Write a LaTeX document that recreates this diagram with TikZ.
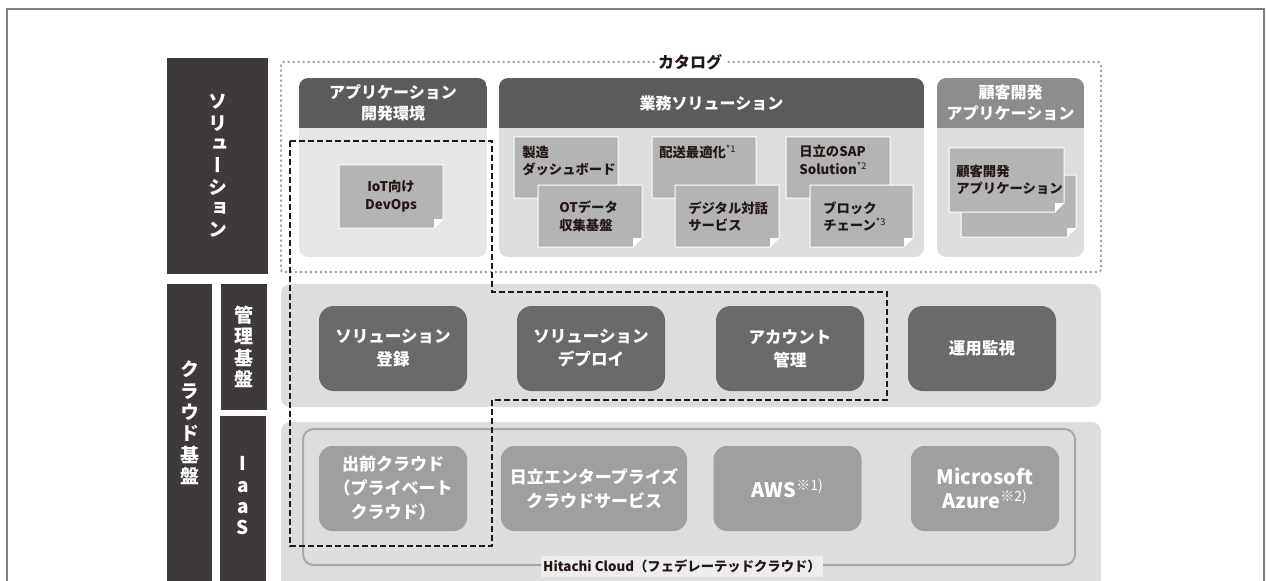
\documentclass[tikz,border=0pt]{standalone}
\usepackage{fontspec}
\setmainfont{Noto Sans CJK JP}
\newfontfamily\vertfont{Noto Sans CJK JP}[RawFeature=+vert]

\definecolor{barDark}{HTML}{3E3A39}
\definecolor{headDark}{HTML}{5B5B5B}
\definecolor{headLight}{HTML}{8D8D8D}
\definecolor{panelLight}{HTML}{E6E6E6}
\definecolor{panelGray}{HTML}{DCDDDD}
\definecolor{sheetGray}{HTML}{B4B4B4}
\definecolor{mgmtGray}{HTML}{6A6A6A}
\definecolor{iaasGray}{HTML}{9F9FA0}
\definecolor{cloudLine}{HTML}{A8A8A8}
\definecolor{dotGray}{HTML}{A0A0A0}
\definecolor{inkBlack}{HTML}{231815}
\definecolor{frameGray}{HTML}{7F7F7F}
\definecolor{tagGray}{HTML}{EDEDED}

\begin{document}
\begin{tikzpicture}[x=0.75pt,y=0.75pt,yscale=-1,xscale=1,
  vlabel/.style={text=white, align=center, inner sep=0pt, font=\vertfont\bfseries\fontsize{14.25}{16}\selectfont},
  headtext/.style={text=white, align=center, inner sep=0pt, font=\bfseries\fontsize{12}{15.75}\selectfont},
  doctext/.style={text=inkBlack, align=left, inner sep=0pt, font=\bfseries\fontsize{10}{13.25}\selectfont},
  docsheet/.style={fill=sheetGray, draw=white, line width=0.75pt},
  mgmtbox/.style={fill=mgmtGray, rounded corners=11pt, minimum width=111pt, minimum height=63.75pt, text=white, align=center, font=\bfseries\fontsize{12.4}{17.25}\selectfont},
  iaasbox/.style={fill=iaasGray, rounded corners=10pt, minimum width=111pt, minimum height=63.75pt, text=white, align=center, font=\bfseries\fontsize{12.75}{18}\selectfont},
  catalog/.style={draw=dotGray, line width=1.5pt, dash pattern=on 1.5pt off 2.25pt, rounded corners=2pt},
  route/.style={draw=inkBlack, line width=1.1pt, dash pattern=on 4.5pt off 2.25pt}]
\useasboundingbox (0,0) rectangle (1266,581);
\clip (0,0) rectangle (1266,581);

%Shape: Rectangle [outer frame]
\draw [frameGray, line width=1.1pt] (7,9) rectangle (1264,620);

%Shape: Rectangle [side bars]
\fill [barDark] (167,58) rectangle (268,274);
\fill [barDark] (167,284) rectangle (212,620);
\fill [barDark] (221,284) rectangle (267,410);
\fill [barDark] (220,416) rectangle (266,620);

% Text Node
\node [vlabel] (solLabel) at (217.5,166) {ソ\\リ\\ュ\\ー\\シ\\ョ\\ン};
% Text Node
\node [vlabel] (cloudLabel) at (189.5,423) {ク\\ラ\\ウ\\ド\\基\\盤};
% Text Node
\node [vlabel] (mgmtLabel) at (244,347) {管\\理\\基\\盤};
% Text Node
\node [vlabel] (iaasLabel) at (243,496) {I\\a\\a\\S};

%Shape: Rectangle [catalog]
\draw [catalog] (281,62) rectangle (1101,272);
% Text Node
\node [fill=white, inner xsep=2pt, inner ysep=1pt, text=inkBlack, font=\bfseries\fontsize{12}{14}\selectfont] (catTitle) at (690,62) {カタログ};

%Shape: Panels with header
\foreach \xa/\xb/\hc/\bc in {299/487/headDark/panelLight, 499/924/headDark/panelGray, 937/1084/headLight/panelGray}{
  \begin{scope}
    \clip [rounded corners=7pt] (\xa,78) rectangle (\xb,257);
    \fill [\bc] (\xa,78) rectangle (\xb,257);
    \fill [\hc] (\xa,78) rectangle (\xb,128);
  \end{scope}
}

% Text Node
\node [headtext] (appHead) at (393,103) {アプリケーション\\開発環境};
% Text Node
\node [headtext] (bizHead) at (711.5,103) {業務ソリューション};
% Text Node
\node [headtext] (custHead) at (1010.5,103) {顧客開発\\アプリケーション};

%Shape: Document sheets
\foreach \xa/\ya/\xb/\yb in {339/165/443/228, 514/137/618/198, 538/185/642/247, 652/137/756/198, 675/185/779/247, 786/137/890/198, 810/185/913/247, 961/175/1076/237, 949/148/1064/212}{
  \filldraw [docsheet] (\xa,\ya) -- (\xb,\ya) -- (\xb,\yb-9) -- (\xb-9,\yb) -- (\xa,\yb) -- cycle;
  \fill [white] (\xb,\yb-9) -- (\xb-9,\yb-9) -- (\xb-9,\yb) -- cycle;
}

% Text Node
\node [doctext, align=center] (iotDoc) at (391,196) {IoT向け\\DevOps};
% Text Node
\node [doctext, anchor=west] (mfgDoc) at (522,161) {製造\\ダッシュボード};
% Text Node
\node [doctext, anchor=west] (otDoc) at (559,216.5) {OTデータ\\収集基盤};
% Text Node
\node [doctext, anchor=west] (routeDoc) at (659,152) {配送最適化\textsuperscript{\mdseries *1}};
% Text Node
\node [doctext, anchor=west] (chatDoc) at (688,216.5) {デジタル対話\\サービス};
% Text Node
\node [doctext, anchor=west] (sapDoc) at (799,160) {日立のSAP\\Solution\textsuperscript{\mdseries *2}};
% Text Node
\node [doctext, anchor=west] (chainDoc) at (823,216.5) {ブロック\\チェーン\textsuperscript{\mdseries *3}};
% Text Node
\node [doctext, anchor=west] (custDoc) at (956,180) {顧客開発\\アプリケーション};

%Shape: Rectangle [management / IaaS panels]
\fill [panelGray, rounded corners=7pt] (281,284) rectangle (1101,407);
\fill [panelGray, rounded corners=7pt] (281,422) rectangle (1101,620);

% Text Node
\node [mgmtbox] (solReg) at (393,348.5) {ソリューション\\登録};
% Text Node
\node [mgmtbox] (solDeploy) at (591,348.5) {ソリューション\\デプロイ};
% Text Node
\node [mgmtbox] (account) at (790,348.5) {アカウント\\管理};
% Text Node
\node [mgmtbox] (monitor) at (982,348.5) {運用監視};

%Shape: Rounded Rect [Hitachi Cloud]
\draw [cloudLine, line width=1.5pt, rounded corners=8pt] (303,429) rectangle (1075,565);
% Text Node
\node [fill=tagGray, minimum width=211.5pt, minimum height=15.75pt, inner sep=0pt, text=inkBlack, font=\bfseries\fontsize{10}{12}\selectfont] (cloudTag) at (682,566.5) {Hitachi Cloud（フェデレーテッドクラウド）};

% Text Node
\node [iaasbox] (demae) at (393,488.5) {出前クラウド\\（プライベート\\クラウド）};
% Text Node
\node [iaasbox, minimum width=139.5pt] (hitachiEcs) at (594,488.5) {日立エンタープライズ\\クラウドサービス};
% Text Node
\node [iaasbox, font=\bfseries\fontsize{15}{18}\selectfont] (aws) at (787.5,488.5) {AWS\textsuperscript{\mdseries ※1)}};
% Text Node
\node [iaasbox, font=\bfseries\fontsize{15}{18}\selectfont] (azure) at (985,488.5) {Microsoft\\Azure\textsuperscript{\mdseries ※2)}};

%Straight Lines [dashed scope]
\draw [route] (290,141) -- (492,141) -- (492,292) -- (887,292) -- (887,400) -- (492,400) -- (492,546) -- (290,546) -- cycle;

\end{tikzpicture}
\end{document}
